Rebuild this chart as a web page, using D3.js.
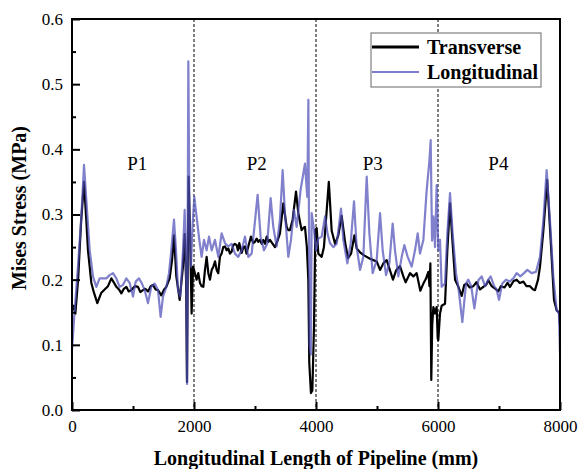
<!DOCTYPE html>
<html><head><meta charset="utf-8">
<script src="https://cdn.jsdelivr.net/npm/d3@7/dist/d3.min.js"></script>
<style>body{margin:0;background:#fff}svg{display:block}text{font-family:"Liberation Serif","Times New Roman",serif}</style>
</head><body><svg id="c" width="580" height="469"></svg>
<script>
const transverseX = [0,30,55,100,150,197,235,262,317,360,415,481,535,590,645,690,727,770,809,850,891,930,972,1030,1082,1120,1164,1200,1246,1290,1328,1370,1410,1464,1510,1546,1601,1640,1672,1710,1765,1819,1847,1870,1885,1900,1912,1940,1961,1985,2000,2043,2070,2098,2125,2153,2180,2207,2235,2262,2290,2317,2345,2371,2398,2425,2453,2480,2508,2535,2562,2590,2617,2644,2670,2699,2720,2743,2781,2810,2836,2860,2890,2934,2972,3000,3027,3055,3081,3110,3136,3165,3191,3220,3245,3290,3327,3370,3409,3464,3519,3545,3573,3617,3672,3710,3764,3800,3819,3850,3874,3890,3917,3940,3967,3989,4011,4038,4093,4130,4164,4210,4257,4312,4366,4421,4476,4525,4575,4629,4667,4722,4776,4831,4886,4940,4995,5050,5104,5159,5210,5262,5312,5377,5432,5470,5541,5596,5650,5710,5760,5800,5842,5860,5875,5890,5905,5924,5951,5978,5995,6005,6033,6060,6115,6153,6197,6240,6280,6330,6388,6430,6470,6520,6579,6630,6690,6743,6790,6825,6880,6940,6989,7030,7090,7140,7180,7240,7290,7340,7400,7450,7508,7560,7590,7640,7672,7727,7790,7847,7902,7945,7983,8000];
const transverseY = [0.153,0.16,0.148,0.2,0.29,0.350,0.29,0.245,0.195,0.18,0.164,0.18,0.185,0.19,0.202,0.195,0.189,0.185,0.179,0.186,0.189,0.182,0.184,0.19,0.189,0.181,0.184,0.186,0.182,0.19,0.192,0.185,0.184,0.176,0.185,0.189,0.202,0.23,0.268,0.205,0.169,0.22,0.27,0.2,0.043,0.25,0.358,0.25,0.148,0.22,0.215,0.2,0.21,0.195,0.19,0.189,0.215,0.235,0.21,0.2,0.215,0.22,0.228,0.215,0.21,0.235,0.24,0.25,0.251,0.245,0.248,0.24,0.243,0.253,0.255,0.253,0.245,0.256,0.241,0.25,0.251,0.24,0.251,0.266,0.256,0.258,0.263,0.258,0.261,0.255,0.261,0.255,0.266,0.258,0.261,0.255,0.25,0.26,0.271,0.317,0.281,0.276,0.276,0.292,0.335,0.302,0.276,0.28,0.281,0.25,0.2,0.072,0.026,0.03,0.127,0.276,0.279,0.24,0.235,0.25,0.292,0.350,0.275,0.255,0.268,0.298,0.258,0.233,0.24,0.268,0.248,0.242,0.238,0.235,0.232,0.23,0.228,0.215,0.225,0.23,0.215,0.2,0.214,0.221,0.205,0.196,0.21,0.205,0.21,0.183,0.194,0.201,0.212,0.19,0.225,0.046,0.13,0.158,0.148,0.158,0.11,0.107,0.148,0.16,0.163,0.245,0.317,0.255,0.2,0.19,0.175,0.192,0.194,0.188,0.19,0.196,0.185,0.189,0.192,0.199,0.19,0.186,0.182,0.19,0.188,0.195,0.189,0.198,0.2,0.195,0.197,0.19,0.19,0.185,0.184,0.2,0.22,0.275,0.353,0.261,0.169,0.153,0.15,0.13];
const longitudinalX = [0,44,98,153,197,235,290,344,399,453,508,563,617,672,727,781,836,891,945,1000,1044,1098,1147,1191,1246,1300,1355,1410,1453,1492,1546,1590,1628,1672,1705,1738,1776,1820,1847,1874,1887,1907,1925,1950,1975,2005,2043,2087,2125,2164,2207,2246,2289,2344,2399,2453,2508,2562,2617,2672,2726,2781,2836,2890,2945,2989,3043,3092,3147,3200,3256,3300,3355,3409,3453,3491,3546,3590,3639,3683,3748,3819,3857,3875,3895,3915,3929,3968,4000,4038,4093,4148,4190,4230,4284,4340,4410,4448,4514,4569,4623,4667,4722,4776,4831,4875,4929,4995,5050,5093,5148,5202,5257,5295,5350,5405,5448,5503,5569,5623,5667,5705,5760,5814,5858,5880,5902,5924,5951,5978,6005,6033,6060,6115,6153,6197,6240,6295,6333,6399,6459,6497,6545,6596,6661,6716,6770,6825,6863,6920,6960,7000,7054,7115,7175,7235,7290,7350,7410,7464,7535,7607,7672,7727,7781,7836,7890,7945,7983,8000];
const longitudinalY = [0.092,0.153,0.22,0.297,0.376,0.322,0.245,0.205,0.189,0.202,0.202,0.202,0.207,0.21,0.202,0.189,0.192,0.202,0.195,0.174,0.197,0.202,0.194,0.184,0.164,0.189,0.194,0.184,0.143,0.174,0.189,0.21,0.245,0.292,0.245,0.184,0.174,0.245,0.307,0.194,0.04,0.535,0.30,0.22,0.28,0.327,0.296,0.261,0.235,0.261,0.245,0.266,0.245,0.261,0.235,0.271,0.256,0.251,0.255,0.24,0.235,0.245,0.266,0.235,0.24,0.28,0.330,0.266,0.245,0.255,0.325,0.281,0.251,0.292,0.368,0.302,0.235,0.261,0.307,0.281,0.338,0.378,0.327,0.476,0.10,0.085,0.302,0.276,0.245,0.263,0.266,0.297,0.27,0.256,0.25,0.255,0.309,0.261,0.225,0.256,0.32,0.25,0.215,0.235,0.358,0.271,0.21,0.23,0.302,0.245,0.207,0.225,0.286,0.245,0.205,0.235,0.253,0.235,0.22,0.245,0.271,0.24,0.261,0.337,0.381,0.414,0.26,0.297,0.25,0.345,0.245,0.261,0.189,0.194,0.271,0.333,0.271,0.21,0.189,0.135,0.194,0.2,0.19,0.156,0.199,0.205,0.19,0.2,0.205,0.19,0.185,0.169,0.194,0.2,0.197,0.202,0.21,0.205,0.21,0.215,0.21,0.212,0.235,0.29,0.368,0.29,0.205,0.153,0.148,0.087];
const xTicks = [0,2000,4000,6000,8000];
const xMinorTicks = [1000,3000,5000,7000];
const yTicks = [0.0,0.1,0.2,0.3,0.4,0.5,0.6];
const yMinorTicks = [0.05,0.15,0.25,0.35,0.45,0.55];
const separators = [2000,4000,6000];
const regionLabels = ["P1","P2","P3","P4"];
const regionCenters = [1070,3030,4930,6990];
const seriesNames = ["Transverse","Longitudinal"];

const svg = d3.select("#c");
const L=72,R=560,T=19,B=410;
const x = d3.scaleLinear().domain([0,8000]).range([L,R]);
const y = d3.scaleLinear().domain([0,0.6]).range([B,T]);

// separators
svg.selectAll("line.sep").data(separators).enter().append("line")
  .attr("x1",d=>x(d)).attr("x2",d=>x(d)).attr("y1",T).attr("y2",B)
  .attr("stroke","#000").attr("stroke-width",1).attr("stroke-dasharray","3,2");

const line = d3.line().x(d=>x(d[0])).y(d=>y(d[1]));
const tData = transverseX.map((v,i)=>[v,transverseY[i]]);
const lData = longitudinalX.map((v,i)=>[v,longitudinalY[i]]);
svg.append("path").datum(tData).attr("d",line).attr("fill","none")
  .attr("stroke","#000").attr("stroke-width",2.2).attr("stroke-linejoin","round");
svg.append("path").datum(lData).attr("d",line).attr("fill","none")
  .attr("stroke","#4f4fb8").attr("stroke-opacity",0.72).attr("stroke-width",2.2).attr("stroke-linejoin","round");

// axes
const xAxis = svg.append("g").attr("transform",`translate(0,${B})`)
  .call(d3.axisBottom(x).tickValues(xTicks).tickSize(-8).tickPadding(10).tickFormat(d3.format("d")));
const xMin = svg.append("g").attr("transform",`translate(0,${B})`)
  .call(d3.axisBottom(x).tickValues(xMinorTicks).tickSize(-4).tickFormat(""));
const yAxis = svg.append("g").attr("transform",`translate(${L},0)`)
  .call(d3.axisLeft(y).tickValues(yTicks).tickSize(-8).tickPadding(9).tickFormat(d3.format(".1f")));
const yMin = svg.append("g").attr("transform",`translate(${L},0)`)
  .call(d3.axisLeft(y).tickValues(yMinorTicks).tickSize(-4).tickFormat(""));
[xAxis,xMin,yAxis,yMin].forEach(g=>{
  g.select(".domain").remove();
  g.selectAll("line").attr("stroke","#000").attr("stroke-width",2);
  g.selectAll("text").attr("font-size",17).attr("fill","#000").style("font-family","'Liberation Serif',serif");
});

svg.append("rect").attr("x",L).attr("y",T).attr("width",R-L).attr("height",B-T)
  .attr("fill","none").attr("stroke","#000").attr("stroke-width",2);

// region labels
svg.selectAll("text.reg").data(regionLabels).enter().append("text")
  .attr("x",(d,i)=>x(regionCenters[i])).attr("y",170).attr("text-anchor","middle")
  .attr("font-size",19).text(d=>d);

// legend
svg.append("rect").attr("x",371).attr("y",33).attr("width",170).attr("height",54)
  .attr("fill","#fff").attr("stroke","#666").attr("stroke-width",1);
const legColors=["#000","#7c7cd0"], legW=[3,2], legY=[47,72];
seriesNames.forEach((n,i)=>{
  svg.append("line").attr("x1",372).attr("x2",419).attr("y1",legY[i]).attr("y2",legY[i])
    .attr("stroke",legColors[i]).attr("stroke-width",legW[i]);
  svg.append("text").attr("x",427).attr("y",legY[i]+7).attr("font-size",20)
    .attr("font-weight","bold").text(n);
});

// axis titles
svg.append("text").attr("x",316).attr("y",465).attr("text-anchor","middle")
  .attr("font-size",20).attr("font-weight","bold").text("Longitudinal Length of Pipeline (mm)");
svg.append("text").attr("transform","translate(26,208) rotate(-90)").attr("text-anchor","middle")
  .attr("font-size",20).attr("font-weight","bold").text("Mises Stress (MPa)");
</script></body></html>
